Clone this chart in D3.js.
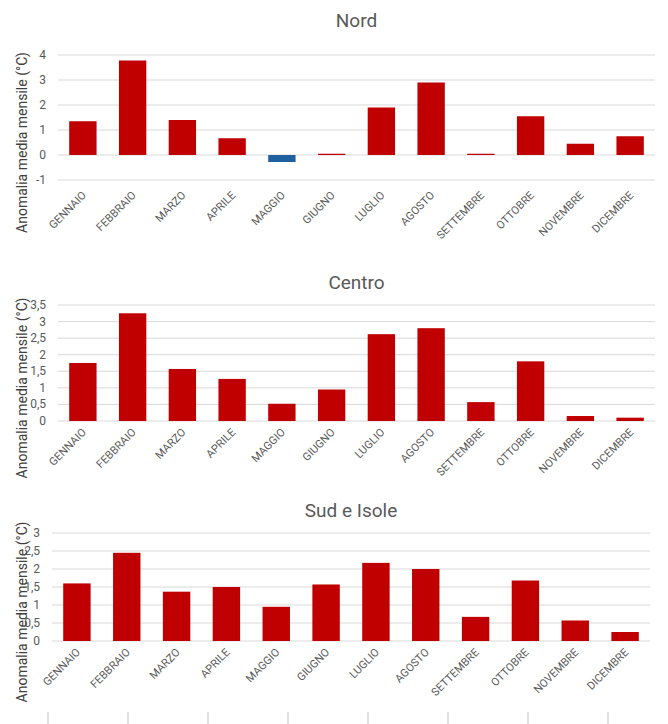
<!DOCTYPE html>
<html><head><meta charset="utf-8">
<script src="https://cdn.jsdelivr.net/npm/d3@7"></script>
<style>body{margin:0;background:#fff;font-family:"Liberation Sans Narrow","Roboto",sans-serif}</style>
</head><body><div id="vis"></div>
<script>
const MONTHS = ["GENNAIO","FEBBRAIO","MARZO","APRILE","MAGGIO","GIUGNO","LUGLIO","AGOSTO","SETTEMBRE","OTTOBRE","NOVEMBRE","DICEMBRE"];
const NORD = [1.35,3.78,1.4,0.67,-0.28,0.05,1.9,2.9,0.05,1.55,0.45,0.75];
const CENTRO = [1.75,3.25,1.57,1.27,0.52,0.95,2.62,2.8,0.57,1.8,0.15,0.1];
const SUD = [1.6,2.45,1.37,1.5,0.95,1.57,2.17,2.0,0.67,1.68,0.57,0.25];
const NORD_TICKS = [-1,0,1,2,3,4];
const CENTRO_TICKS = [0,0.5,1,1.5,2,2.5,3,3.5];
const SUD_TICKS = [0,0.5,1,1.5,2,2.5,3];

const SVG = d3.select("#vis").append("svg").attr("width",668).attr("height",724);
const fmt = d => String(d).replace(".", ",");

function panel(title, vals, ticks, titleY, top, bottom, left, right) {
  const x = d3.scaleBand().domain(MONTHS).range([left,right]).paddingInner(0.45).paddingOuter(0.225);
  const y = d3.scaleLinear().domain([ticks[0], ticks[ticks.length-1]]).range([bottom, top]);
  const g = SVG.append("g");
  g.append("text").attr("x",(left+right)/2).attr("y",titleY).attr("text-anchor","middle")
    .attr("font-size",19).attr("fill","#595959").text(title);
  g.selectAll(".grid").data(ticks).enter().append("line")
    .attr("x1",left).attr("x2",right).attr("y1",d=>y(d)).attr("y2",d=>y(d))
    .attr("stroke","#d9d9d9").attr("stroke-width",1);
  g.selectAll(".tl").data(ticks).enter().append("text")
    .attr("x",left-12).attr("y",d=>y(d)+4).attr("text-anchor","end")
    .attr("font-size",12).attr("fill","#595959").text(fmt);
  g.selectAll(".bar").data(vals).enter().append("rect")
    .attr("x",(d,i)=>x(MONTHS[i])).attr("width",x.bandwidth())
    .attr("y",d=>y(Math.max(0,d))).attr("height",d=>Math.abs(y(d)-y(0)))
    .attr("fill",d=>d<0?"#2060a0":"#c00000");
  g.selectAll(".ml").data(MONTHS).enter().append("text")
    .attr("transform",d=>`translate(${x(d)+x.bandwidth()/2+4},${bottom+ (ticks[0]<0?16:12)}) rotate(-45)`)
    .attr("text-anchor","end").attr("font-size",11).attr("fill","#595959").text(d=>d);
  const cy = (top+bottom)/2 + 25;
  g.append("text").attr("transform",`translate(27,${cy}) rotate(-90)`).attr("text-anchor","middle")
    .attr("font-size",14).attr("fill","#404040").text("Anomalia media mensile (°C)");
}

panel("Nord", NORD, NORD_TICKS, 27, 55, 180, 58, 655);
panel("Centro", CENTRO, CENTRO_TICKS, 289, 305, 421, 58, 655);
panel("Sud e Isole", SUD, SUD_TICKS, 517, 533, 641, 52, 650);

// stray tick marks at the bottom edge
SVG.selectAll(".bt").data(d3.range(8)).enter().append("line")
  .attr("x1",d=>48+d*80).attr("x2",d=>48+d*80).attr("y1",712).attr("y2",724)
  .attr("stroke","#bfbfbf");
</script></body></html>
